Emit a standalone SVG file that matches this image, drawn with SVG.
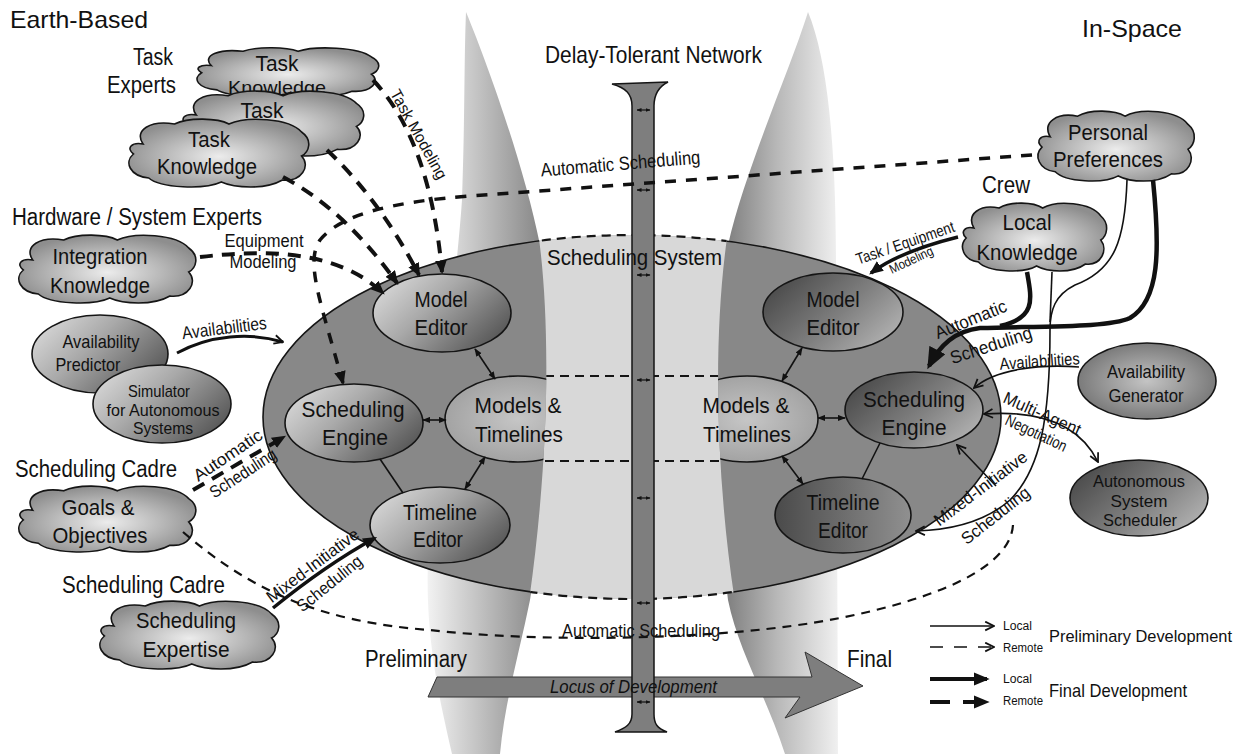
<svg xmlns="http://www.w3.org/2000/svg" width="1245" height="754" viewBox="0 0 1245 754">
<defs>
<style>
text{font-family:"Liberation Sans",Arial,Helvetica,sans-serif;fill:#111}
.h{font-size:24px}
.n{font-size:22px;text-anchor:middle}
.s{font-size:17px;text-anchor:middle}
.cl{fill:url(#gCloud);stroke:#151515;stroke-width:1.6}
.el{stroke:#151515;stroke-width:1.6}
.thin{fill:none;stroke:#111;stroke-width:1.6}
.thick{fill:none;stroke:#111;stroke-width:4}
.dthick{fill:none;stroke:#111;stroke-width:4;stroke-dasharray:13 9}
.dmid{fill:none;stroke:#111;stroke-width:3.5;stroke-dasharray:11 10}
.dthin{fill:none;stroke:#111;stroke-width:2.2;stroke-dasharray:9 7}
.tiny{fill:none;stroke:#111;stroke-width:1.2}
</style>
<linearGradient id="gConeL" x1="0" y1="0" x2="1" y2="0"><stop offset="0" stop-color="#f2f2f2"/><stop offset="0.4" stop-color="#c4c4c4"/><stop offset="1" stop-color="#7e7e7e"/></linearGradient>
<linearGradient id="gConeR" x1="0" y1="0" x2="1" y2="0"><stop offset="0" stop-color="#747474"/><stop offset="0.5" stop-color="#b8b8b8"/><stop offset="1" stop-color="#f0f0f0"/></linearGradient>
<radialGradient id="gCloud" cx="0.5" cy="0.55" r="0.55"><stop offset="0" stop-color="#ececec"/><stop offset="0.55" stop-color="#b9b9b9"/><stop offset="1" stop-color="#8e8e8e"/></radialGradient>
<linearGradient id="gNodeL" x1="0" y1="0.2" x2="1" y2="0.8"><stop offset="0" stop-color="#d9d9d9"/><stop offset="0.4" stop-color="#a9a9a9"/><stop offset="1" stop-color="#505050"/></linearGradient>
<linearGradient id="gNodeR" x1="0" y1="0.2" x2="1" y2="0.8"><stop offset="0" stop-color="#474747"/><stop offset="0.55" stop-color="#7f7f7f"/><stop offset="1" stop-color="#b5b5b5"/></linearGradient>
<linearGradient id="gNodeD" x1="0" y1="0" x2="1" y2="0"><stop offset="0" stop-color="#4a4a4a"/><stop offset="1" stop-color="#909090"/></linearGradient>
<radialGradient id="gMT" cx="0.5" cy="0.5" r="0.6"><stop offset="0" stop-color="#c6c6c6"/><stop offset="1" stop-color="#9c9c9c"/></radialGradient>
<radialGradient id="gAv" cx="0.5" cy="0.5" r="0.6"><stop offset="0" stop-color="#c4c4c4"/><stop offset="1" stop-color="#6c6c6c"/></radialGradient>
<path id="cloud" vector-effect="non-scaling-stroke" d="M22,26 C12,12 30,2 55,6 C70,-1 100,0 112,6 C130,-2 175,0 188,14 C200,22 196,34 188,38 C198,48 188,64 168,62 C150,72 118,70 104,64 C86,72 40,70 28,60 C8,58 2,44 12,36 C4,30 10,24 22,26 Z"/>
<path id="bandP" d="M537,225 C549,300 553,440 527,615 L737,615 C715,480 712,330 729,225 Z"/>
<clipPath id="clipEll"><ellipse cx="632" cy="417" rx="369" ry="182"/></clipPath>
<clipPath id="clipBand"><use href="#bandP"/></clipPath>
<clipPath id="clipNotBand"><path clip-rule="evenodd" d="M0,0 H1245 V754 H0 Z M537,225 C549,300 553,440 527,615 L737,615 C715,480 712,330 729,225 Z"/></clipPath>
<marker id="aF" viewBox="0 0 12 10" refX="10" refY="5" markerUnits="userSpaceOnUse" markerWidth="14" markerHeight="12" orient="auto"><path d="M0,0 L12,5 L0,10 Z" fill="#111"/></marker>
<marker id="aL" viewBox="0 0 12 10" refX="10" refY="5" markerUnits="userSpaceOnUse" markerWidth="16" markerHeight="17" orient="auto"><path d="M0,0 L12,5 L0,10 Z" fill="#111"/></marker>
<marker id="aBig" viewBox="0 0 12 10" refX="10" refY="5" markerUnits="userSpaceOnUse" markerWidth="22" markerHeight="18" orient="auto"><path d="M0,0 L12,5 L0,10 Z" fill="#111"/></marker>
<marker id="aO" viewBox="0 0 10 10" refX="9" refY="5" markerUnits="userSpaceOnUse" markerWidth="11" markerHeight="11" orient="auto-start-reverse"><path d="M1,1 L9,5 L1,9" fill="none" stroke="#111" stroke-width="1.6"/></marker>
<marker id="aS" viewBox="0 0 10 8" refX="9" refY="4" markerUnits="userSpaceOnUse" markerWidth="8" markerHeight="7" orient="auto-start-reverse"><path d="M0,0 L10,4 L0,8 Z" fill="#111"/></marker>
<marker id="aT" viewBox="0 0 10 8" refX="9" refY="4" markerUnits="userSpaceOnUse" markerWidth="5" markerHeight="4" orient="auto-start-reverse"><path d="M0,0 L10,4 L0,8 Z" fill="#111"/></marker>
</defs>

<rect width="1245" height="754" fill="#fff"/>

<g id="background">
<path d="M466,12 C490,70 525,170 540,245 C555,330 555,450 530,600 C520,650 505,700 500,754 L452,754 C440,700 425,640 428,560 C432,450 455,300 462,200 C465,120 464,60 466,12 Z" fill="url(#gConeL)"/>
<path d="M808,12 C790,70 745,170 728,245 C713,330 712,470 728,600 C738,650 768,700 785,754 L838,754 C838,650 836,400 836,260 C836,150 828,60 808,12 Z" fill="url(#gConeR)"/>
</g>

<g id="scheduling-system">
<ellipse cx="632" cy="417" rx="369" ry="182" fill="#888"/>
<use href="#bandP" fill="#d8d8d8" clip-path="url(#clipEll)"/>
<ellipse cx="632" cy="417" rx="369" ry="182" fill="none" stroke="#151515" stroke-width="1.6" clip-path="url(#clipNotBand)"/>
<g clip-path="url(#clipBand)" fill="none" stroke="#151515" stroke-width="2.2" stroke-dasharray="9 6">
<ellipse cx="632" cy="417" rx="369" ry="182"/>
<path d="M500,376 H760 M500,461 H760"/>
</g>
</g>

<g id="locus-bar">
<polygon points="437,677 812,677 805,652 863,686 785,718 800,697 428,697" fill="#7e7e7e" stroke="#333" stroke-width="1"/>
</g>

<g id="delay-tolerant-network">
<path d="M612,84 C626,88 632,94 632,106 L632,714 C632,724 626,728 615,732 L667,732 C657,728 654,724 654,714 L654,106 C654,94 660,86 668,82 Z" fill="#7e7e7e" stroke="#151515" stroke-width="1.5"/>
<g class="tiny" marker-start="url(#aT)" marker-end="url(#aT)">
<path d="M637,110 H650"/><path d="M637,190 H650"/><path d="M637,275 H650"/><path d="M637,380 H650"/><path d="M637,498 H650"/><path d="M637,603 H650"/><path d="M637,702 H650"/>
</g>
<text x="545" y="63" class="h" textLength="217" lengthAdjust="spacingAndGlyphs">Delay-Tolerant Network</text>
</g>

<g id="locus-label">
<text x="550" y="693" textLength="167" lengthAdjust="spacingAndGlyphs" style="font-size:19px;font-style:italic">Locus of Development</text>
</g>

<g id="system-label">
<text x="547" y="265" textLength="175" lengthAdjust="spacingAndGlyphs" style="font-size:22px">Scheduling System</text>
</g>

<!-- Earth-based nodes -->
<g id="task-knowledge-3">
<use href="#cloud" class="cl" transform="translate(190,47) scale(0.965,0.714)"/>
<text x="277" y="71" class="n" textLength="43" lengthAdjust="spacingAndGlyphs">Task</text>
<text x="277" y="94" class="n" style="font-size:19px" textLength="98" lengthAdjust="spacingAndGlyphs">Knowledge</text>
</g>
<g id="task-knowledge-2">
<use href="#cloud" class="cl" transform="translate(175,90) scale(0.965,0.957)"/>
<text x="262" y="118" class="n" textLength="43" lengthAdjust="spacingAndGlyphs">Task</text>
</g>
<g id="task-knowledge-1">
<use href="#cloud" class="cl" transform="translate(122,118) scale(0.955,1)"/>
<text x="209" y="147" class="n" textLength="42" lengthAdjust="spacingAndGlyphs">Task</text>
<text x="207" y="174" class="n" textLength="100" lengthAdjust="spacingAndGlyphs">Knowledge</text>
</g>
<g id="integration-knowledge">
<use href="#cloud" class="cl" transform="translate(12,234) scale(0.94,1)"/>
<text x="100" y="264" class="n" textLength="95" lengthAdjust="spacingAndGlyphs">Integration</text>
<text x="100" y="293" class="n" textLength="100" lengthAdjust="spacingAndGlyphs">Knowledge</text>
</g>
<g id="availability-predictor">
<ellipse cx="100" cy="354" rx="68" ry="39" fill="url(#gNodeL)" class="el"/>
<text x="101" y="348" class="n" style="font-size:19px" textLength="77" lengthAdjust="spacingAndGlyphs">Availability</text>
<text x="88" y="371" class="n" style="font-size:19px" textLength="65" lengthAdjust="spacingAndGlyphs">Predictor</text>
</g>
<g id="simulator">
<ellipse cx="162" cy="404" rx="69" ry="39" fill="url(#gNodeL)" class="el"/>
<text x="159" y="397" class="s" textLength="62" lengthAdjust="spacingAndGlyphs">Simulator</text>
<text x="163" y="416" class="s" textLength="113" lengthAdjust="spacingAndGlyphs">for Autonomous</text>
<text x="163" y="434" class="s" textLength="60" lengthAdjust="spacingAndGlyphs">Systems</text>
</g>
<g id="goals-objectives">
<use href="#cloud" class="cl" transform="translate(12,485) scale(0.94,0.971)"/>
<text x="98" y="515" class="n" textLength="73" lengthAdjust="spacingAndGlyphs">Goals &amp;</text>
<text x="100" y="543" class="n" textLength="95" lengthAdjust="spacingAndGlyphs">Objectives</text>
</g>
<g id="scheduling-expertise">
<use href="#cloud" class="cl" transform="translate(93,600) scale(0.95,1)"/>
<text x="186" y="628" class="n" textLength="100" lengthAdjust="spacingAndGlyphs">Scheduling</text>
<text x="186" y="657" class="n" textLength="87" lengthAdjust="spacingAndGlyphs">Expertise</text>
</g>

<!-- earth-side scheduling system -->
<g id="model-editor-earth">
<ellipse cx="442" cy="313" rx="69" ry="39" fill="url(#gNodeL)" class="el"/>
<text x="441" y="307" class="n" textLength="53" lengthAdjust="spacingAndGlyphs">Model</text>
<text x="441" y="335" class="n" textLength="53" lengthAdjust="spacingAndGlyphs">Editor</text>
</g>
<g id="scheduling-engine-earth">
<ellipse cx="354" cy="423" rx="69" ry="39" fill="url(#gNodeL)" class="el"/>
<text x="353" y="417" class="n" textLength="103" lengthAdjust="spacingAndGlyphs">Scheduling</text>
<text x="355" y="445" class="n" textLength="66" lengthAdjust="spacingAndGlyphs">Engine</text>
</g>
<g id="timeline-editor-earth">
<ellipse cx="440" cy="525" rx="70" ry="38" fill="url(#gNodeL)" class="el"/>
<text x="440" y="520" class="n" textLength="74" lengthAdjust="spacingAndGlyphs">Timeline</text>
<text x="438" y="547" class="n" textLength="50" lengthAdjust="spacingAndGlyphs">Editor</text>
</g>
<g id="models-timelines-earth">
<ellipse cx="518" cy="419" rx="73" ry="43" fill="url(#gMT)" class="el" clip-path="url(#clipNotBand)"/>
<text x="518" y="413" class="n" textLength="87" lengthAdjust="spacingAndGlyphs">Models &amp;</text>
<text x="519" y="442" class="n" textLength="88" lengthAdjust="spacingAndGlyphs">Timelines</text>
</g>

<!-- space-side scheduling system -->
<g id="models-timelines-space">
<ellipse cx="747" cy="419" rx="71" ry="43" fill="url(#gMT)" class="el" clip-path="url(#clipNotBand)"/>
<text x="746" y="413" class="n" textLength="87" lengthAdjust="spacingAndGlyphs">Models &amp;</text>
<text x="747" y="442" class="n" textLength="88" lengthAdjust="spacingAndGlyphs">Timelines</text>
</g>
<g id="model-editor-space">
<ellipse cx="833" cy="312" rx="70" ry="39" fill="url(#gNodeR)" class="el"/>
<text x="833" y="307" class="n" textLength="53" lengthAdjust="spacingAndGlyphs">Model</text>
<text x="833" y="335" class="n" textLength="53" lengthAdjust="spacingAndGlyphs">Editor</text>
</g>
<g id="scheduling-engine-space">
<ellipse cx="914" cy="410" rx="69" ry="38" fill="url(#gNodeR)" class="el"/>
<text x="914" y="407" class="n" textLength="102" lengthAdjust="spacingAndGlyphs">Scheduling</text>
<text x="914" y="435" class="n" textLength="65" lengthAdjust="spacingAndGlyphs">Engine</text>
</g>
<g id="timeline-editor-space">
<ellipse cx="843" cy="515" rx="68" ry="38" fill="url(#gNodeD)" class="el"/>
<text x="843" y="510" class="n" textLength="73" lengthAdjust="spacingAndGlyphs">Timeline</text>
<text x="843" y="538" class="n" textLength="50" lengthAdjust="spacingAndGlyphs">Editor</text>
</g>

<!-- in-space nodes -->
<g id="personal-preferences">
<use href="#cloud" class="cl" transform="translate(1032,110) scale(0.83,1.03)"/>
<text x="1108" y="140" class="n" textLength="80" lengthAdjust="spacingAndGlyphs">Personal</text>
<text x="1108" y="167" class="n" textLength="110" lengthAdjust="spacingAndGlyphs">Preferences</text>
</g>
<g id="local-knowledge">
<use href="#cloud" class="cl" transform="translate(957,202) scale(0.765,1)"/>
<text x="1027" y="230" class="n" textLength="49" lengthAdjust="spacingAndGlyphs">Local</text>
<text x="1027" y="260" class="n" textLength="101" lengthAdjust="spacingAndGlyphs">Knowledge</text>
</g>
<g id="availability-generator">
<ellipse cx="1147" cy="381" rx="69" ry="38" fill="url(#gAv)" class="el"/>
<text x="1146" y="378" class="n" style="font-size:19px" textLength="78" lengthAdjust="spacingAndGlyphs">Availability</text>
<text x="1146" y="402" class="n" style="font-size:19px" textLength="75" lengthAdjust="spacingAndGlyphs">Generator</text>
</g>
<g id="autonomous-system-scheduler">
<ellipse cx="1139" cy="498" rx="69" ry="38" fill="url(#gNodeR)" class="el"/>
<text x="1139" y="487" class="s" textLength="92" lengthAdjust="spacingAndGlyphs">Autonomous</text>
<text x="1139" y="507" class="s" textLength="57" lengthAdjust="spacingAndGlyphs">System</text>
<text x="1140" y="526" class="s" textLength="74" lengthAdjust="spacingAndGlyphs">Scheduler</text>
</g>

<g id="connectors">
<path class="dthick" d="M373,80 Q430,140 442,272" marker-end="url(#aF)"/>
<path class="dthick" d="M327,150 Q380,200 419,275" marker-end="url(#aF)"/>
<path class="dthick" d="M283,177 Q345,210 397,283" marker-end="url(#aF)"/>
<path class="dthick" d="M200,257 C260,250 335,248 383,293" marker-end="url(#aF)"/>
<path class="dmid" d="M1032,155 L470,196 C390,202 340,215 320,240 C305,262 320,300 343,383" marker-end="url(#aF)"/>
<path class="dthick" d="M193,490 L284,437" marker-end="url(#aF)"/>
<path class="dthin" d="M183,532 C250,590 320,622 430,630 C530,642 720,642 840,618 C930,600 1010,570 1013,525"/>
<path class="thick" style="stroke-width:3" d="M177,353 C210,335 250,332 283,342" marker-end="url(#aO)"/>
<path class="thick" style="stroke-width:3.5" d="M273,608 C305,582 335,560 375,538" marker-end="url(#aF)"/>
<path class="thin" d="M475,349 L495,379" marker-start="url(#aS)" marker-end="url(#aS)"/>
<path class="thin" d="M423,420 L446,420" marker-start="url(#aS)" marker-end="url(#aS)"/>
<path class="thin" d="M485,457 L465,489" marker-start="url(#aS)" marker-end="url(#aS)"/>
<path class="thin" d="M380,459 L403,493"/>
<path class="thin" d="M802,348 L782,381" marker-start="url(#aS)" marker-end="url(#aS)"/>
<path class="thin" d="M818,418 L845,418" marker-start="url(#aS)" marker-end="url(#aS)"/>
<path class="thin" d="M782,456 L803,484" marker-start="url(#aS)" marker-end="url(#aS)"/>
<path class="thin" d="M880,443 L862,479"/>
<path class="thick" style="stroke-width:3.5" d="M958,237 C930,244 895,255 871,273" marker-end="url(#aF)"/>
<path class="thick" style="stroke-width:4.5" d="M1027,272 C1032,300 1036,318 1000,326"/>
<path class="thick" style="stroke-width:4.5" d="M1153,180 C1160,250 1160,300 1130,318 C1110,327 1060,326 980,328 C955,331 940,345 929,366" marker-end="url(#aBig)"/>
<path class="thin" d="M1127,180 C1125,240 1115,270 1075,285 C1055,295 1050,310 1050,330 C1050,420 1040,470 1010,500 C985,522 950,530 916,531" marker-end="url(#aO)"/>
<path class="thin" d="M1052,272 L1050,322"/>
<path class="thin" d="M996,486 L957,445" marker-end="url(#aO)"/>
<path class="thin" d="M1079,367 C1040,364 995,369 974,388" marker-end="url(#aO)"/>
<path class="thin" d="M984,414 C1040,410 1080,425 1098,462" marker-start="url(#aO)" marker-end="url(#aO)"/>
</g>

<g id="connector-labels">
<text class="s" style="font-size:16px" transform="translate(414,137) rotate(61)" textLength="100" lengthAdjust="spacingAndGlyphs">Task Modeling</text>
<text class="s" style="font-size:19px" transform="translate(621,170) rotate(-4.7)" textLength="160" lengthAdjust="spacingAndGlyphs">Automatic Scheduling</text>
<text x="264" y="247" class="s" style="font-size:18px" textLength="79" lengthAdjust="spacingAndGlyphs">Equipment</text>
<text x="263" y="268" class="s" style="font-size:18px" textLength="67" lengthAdjust="spacingAndGlyphs">Modeling</text>
<text class="s" style="font-size:18px" transform="translate(225,334) rotate(-7)" textLength="85" lengthAdjust="spacingAndGlyphs">Availabilities</text>
<text class="s" transform="translate(231,460) rotate(-34)" textLength="79" lengthAdjust="spacingAndGlyphs">Automatic</text>
<text class="s" transform="translate(246,478) rotate(-33)" textLength="76" lengthAdjust="spacingAndGlyphs">Scheduling</text>
<text class="s" transform="translate(316,570) rotate(-37)" textLength="111" lengthAdjust="spacingAndGlyphs">Mixed-Initiative</text>
<text class="s" transform="translate(333,588) rotate(-39)" textLength="79" lengthAdjust="spacingAndGlyphs">Scheduling</text>
<text x="641" y="637" class="s" style="font-size:18px" textLength="158" lengthAdjust="spacingAndGlyphs">Automatic Scheduling</text>
<text class="s" style="font-size:16px" transform="translate(907,248) rotate(-19)" textLength="103" lengthAdjust="spacingAndGlyphs">Task / Equipment</text>
<text class="s" style="font-size:13px" transform="translate(913,264) rotate(-25)" textLength="47" lengthAdjust="spacingAndGlyphs">Modeling</text>
<text class="s" style="font-size:18px" transform="translate(973,325) rotate(-22)" textLength="76" lengthAdjust="spacingAndGlyphs">Automatic</text>
<text class="s" style="font-size:18px" transform="translate(993,351) rotate(-18)" textLength="85" lengthAdjust="spacingAndGlyphs">Scheduling</text>
<text class="s" transform="translate(1040,367) rotate(-4)" textLength="80" lengthAdjust="spacingAndGlyphs">Availabilities</text>
<text class="s" transform="translate(1040,419) rotate(24)" textLength="83" lengthAdjust="spacingAndGlyphs">Multi-Agent</text>
<text class="s" style="font-size:16px" transform="translate(1034,438) rotate(25)" textLength="66" lengthAdjust="spacingAndGlyphs">Negotiation</text>
<text class="s" transform="translate(984,493) rotate(-37)" textLength="112" lengthAdjust="spacingAndGlyphs">Mixed-Initiative</text>
<text class="s" transform="translate(999,520) rotate(-38)" textLength="82" lengthAdjust="spacingAndGlyphs">Scheduling</text>
</g>

<g id="labels">
<text x="10" y="28" class="h" textLength="138" lengthAdjust="spacingAndGlyphs">Earth-Based</text>
<text x="1082" y="37" class="h" textLength="100" lengthAdjust="spacingAndGlyphs">In-Space</text>
<text x="173" y="65" class="h" style="font-size:23px" text-anchor="end" textLength="40" lengthAdjust="spacingAndGlyphs">Task</text>
<text x="176" y="93" class="h" style="font-size:23px" text-anchor="end" textLength="69" lengthAdjust="spacingAndGlyphs">Experts</text>
<text x="12" y="225" class="h" style="font-size:23px" textLength="250" lengthAdjust="spacingAndGlyphs">Hardware / System Experts</text>
<text x="15" y="477" class="h" style="font-size:23px" textLength="162" lengthAdjust="spacingAndGlyphs">Scheduling Cadre</text>
<text x="62" y="593" class="h" style="font-size:23px" textLength="163" lengthAdjust="spacingAndGlyphs">Scheduling Cadre</text>
<text x="982" y="193" class="h" style="font-size:23px" textLength="48" lengthAdjust="spacingAndGlyphs">Crew</text>
<text x="365" y="667" class="h" style="font-size:23px" textLength="102" lengthAdjust="spacingAndGlyphs">Preliminary</text>
<text x="847" y="667" class="h" textLength="45" lengthAdjust="spacingAndGlyphs">Final</text>
</g>

<g id="legend">
<path class="thin" d="M930,626 H994" marker-end="url(#aO)"/>
<path class="thin" d="M930,647 H994" style="stroke-dasharray:13 11" marker-end="url(#aO)"/>
<path class="thick" d="M930,679 H987" marker-end="url(#aL)"/>
<path class="thick" d="M930,702 H987" style="stroke-dasharray:20 13" marker-end="url(#aL)"/>
<text x="1003" y="630" style="font-size:12px" textLength="29" lengthAdjust="spacingAndGlyphs">Local</text>
<text x="1003" y="652" style="font-size:12px" textLength="40" lengthAdjust="spacingAndGlyphs">Remote</text>
<text x="1003" y="683" style="font-size:12px" textLength="29" lengthAdjust="spacingAndGlyphs">Local</text>
<text x="1003" y="705" style="font-size:12px" textLength="40" lengthAdjust="spacingAndGlyphs">Remote</text>
<text x="1049" y="642" style="font-size:17px" textLength="183" lengthAdjust="spacingAndGlyphs">Preliminary Development</text>
<text x="1049" y="697" style="font-size:19px" textLength="138" lengthAdjust="spacingAndGlyphs">Final Development</text>
</g>
</svg>
